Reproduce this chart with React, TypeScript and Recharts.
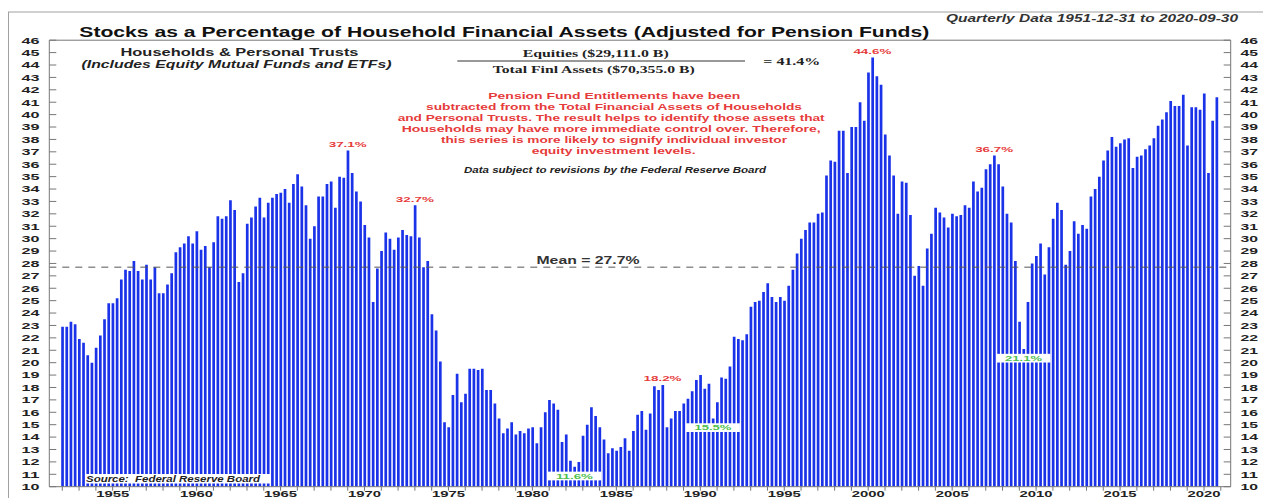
import React from 'react';
import { BarChart, Bar, XAxis, YAxis, ReferenceLine, ReferenceDot } from 'recharts';

// Quarterly data, first bar is 1951-12-31 (plotted at 1952.0)
const firstQuarter = 1952;

const pct1950s = [
  22.9, 22.9, 23.3, 23.1, 21.9, 21.6, 20.6, 20.0, 21.2, 22.2, 23.5, 24.8, 24.8, 25.2, 26.7, 27.5, 27.4,
  28.2, 27.4, 26.7, 27.9, 26.7, 27.7, 25.6, 25.6, 26.3, 27.2, 28.9, 29.3, 29.6, 30.2, 29.6, 30.6,
];
const pct1960s = [
  29.1, 29.4, 27.7, 29.7, 31.8, 31.6, 31.8, 33.1, 32.3, 26.5, 27.2, 31.2, 31.7, 32.6, 33.3, 31.7, 32.9,
  33.3, 33.6, 33.7, 34.0, 32.9, 34.4, 35.2, 34.2, 32.7, 30.0, 31.0, 33.4, 33.4, 34.4, 34.6, 32.5, 35.0,
  34.9, 37.1, 35.3, 33.8, 33.0, 31.1,
];
const pct1970s = [
  30.1, 24.9, 27.6, 29.0, 30.5, 30.0, 29.1, 30.1, 30.7, 30.3, 30.2, 32.7, 30.1, 27.7, 28.2, 23.9, 22.6,
  20.1, 15.2, 14.8, 17.4, 19.1, 16.8, 17.5, 19.5, 19.5, 19.4, 19.5, 17.8, 17.8, 16.7, 15.5, 14.3, 14.7,
  15.2, 14.2, 14.5, 14.3, 14.7, 14.8,
];
const pct1980s = [
  13.5, 14.8, 16.0, 17.0, 16.7, 16.2, 13.6, 14.2, 12.1, 11.6, 12.0, 14.1, 15.0, 16.4, 15.7, 14.8, 13.8,
  12.7, 13.1, 12.9, 13.2, 13.9, 12.9, 14.5, 15.8, 16.1, 14.6, 15.9, 18.1, 17.8, 18.2, 14.8, 15.5, 16.1,
  16.1, 16.7, 17.1, 17.7, 18.6, 19.0,
];
const pct1990s = [
  17.9, 18.3, 15.5, 16.8, 18.8, 18.7, 19.7, 22.1, 21.9, 21.8, 22.3, 24.5, 24.9, 25.0, 25.7, 26.4, 25.3,
  24.9, 25.3, 25.0, 26.2, 27.5, 28.8, 30.0, 30.7, 31.3, 31.3, 32.0, 32.1, 35.1, 36.3, 36.2, 38.7, 38.7,
  35.3, 39.0, 39.0, 41.0, 39.5, 43.4,
];
const pct2000s = [
  44.6, 43.1, 42.4, 38.4, 36.7, 35.1, 32.0, 34.6, 34.5, 31.9, 27.0, 27.8, 26.2, 29.2, 30.4, 32.5, 32.1,
  31.7, 30.9, 32.0, 31.8, 31.9, 32.7, 32.5, 34.6, 33.8, 34.1, 35.6, 36.0, 36.7, 36.0, 34.2, 32.0, 31.3,
  28.2, 23.3, 21.1, 24.9, 28.0, 28.6,
];
const pct2010s = [
  29.6, 27.1, 29.3, 31.6, 32.9, 32.3, 27.9, 29.0, 31.4, 30.4, 31.1, 30.8, 33.4, 34.0, 35.0, 36.3, 37.1,
  38.2, 37.4, 37.7, 38.0, 38.1, 35.7, 36.6, 36.7, 37.2, 37.5, 38.1, 39.1, 39.6, 40.2, 41.1, 40.7, 40.7,
  41.6, 37.5, 40.6, 40.6, 40.4, 41.7,
];
const pct2020 = [35.3, 39.5, 41.4];

const pct = [...pct1950s, ...pct1960s, ...pct1970s, ...pct1980s, ...pct1990s, ...pct2000s, ...pct2010s, ...pct2020];
const data = pct.map((v, i) => ({ t: firstQuarter + i / 4, v }));

const meanPct = 27.7;
const yTicks = [
  10, 11, 12, 13, 14, 15, 16, 17, 18, 19, 20, 21, 22, 23, 24, 25, 26, 27, 28, 29, 30, 31, 32, 33, 34, 35,
  36, 37, 38, 39, 40, 41, 42, 43, 44, 45, 46,
];
const yearLabels = [1955, 1960, 1965, 1970, 1975, 1980, 1985, 1990, 1995, 2000, 2005, 2010, 2015, 2020];
const yearTicks = Array.from({ length: 70 }, (_, k) => 1952 + k);

// bar index of highlighted peaks / troughs
const peaks = [68, 84, 143, 193, 222];
const troughs = [122, 155, 229];

const SANS = "'Liberation Sans', Arial, sans-serif";
const SERIF = "'Liberation Serif', 'Times New Roman', serif";
const RED = '#e63b3b';
const GREEN = '#4fbf4f';
const BLUE = '#1b33e8';
const AXIS = '#777';
const PLOT_L = 49.3;
const PLOT_R = 1230.7;

function ST({ x, y, w, size, text, fill = '#222', weight = 700, italic = false, family = SANS }: any) {
  return (
    <text
      x={x}
      y={y}
      textLength={w}
      lengthAdjust="spacingAndGlyphs"
      fontSize={size}
      fontWeight={weight}
      fontStyle={italic ? 'italic' : 'normal'}
      fontFamily={family}
      fill={fill}
      style={{ whiteSpace: 'pre' }}
    >
      {text}
    </text>
  );
}

const LeftTick = (p: any) => (
  <g>
    <line x1={PLOT_L} x2={PLOT_L + 7} y1={p.y} y2={p.y} stroke={AXIS} />
    <ST x={21.5} y={p.y + 3.4} w={18} size={9.5} text={String(p.payload.value)} />
  </g>
);

const RightTick = (p: any) => (
  <g>
    <line x1={PLOT_R - 7} x2={PLOT_R} y1={p.y} y2={p.y} stroke={AXIS} />
    <ST x={1240.5} y={p.y + 3.4} w={17.5} size={9.5} text={String(p.payload.value)} />
  </g>
);

const YearTick = (p: any) =>
  yearLabels.includes(p.payload.value) ? (
    <ST x={p.x - 16.5} y={p.y + 4.6} w={33} size={9.5} text={String(p.payload.value)} />
  ) : (
    <g />
  );

const peakShape = (label: string) => (p: any) => (
  <ST x={p.cx - 19} y={p.cy - 3.5} w={38} size={8} fill={RED} text={label} />
);

const troughShape = (label: string) => (p: any) => (
  <g>
    <rect x={p.cx - 27} y={p.cy + 4.8} width={54} height={8.7} fill="#fff" />
    <ST x={p.cx - 18.5} y={p.cy + 11.8} w={37} size={8} fill={GREEN} text={label} />
  </g>
);

const meanShape = (p: any) => <ST x={p.cx - 51.5} y={p.cy - 3} w={103} size={10.7} fill="#333" text={`Mean = ${meanPct}%`} />;

const redLines = [
  { text: 'Pension Fund Entitlements have been', x: 488.3, w: 252 },
  { text: 'subtracted from the Total Financial Assets of Households', x: 426, w: 376 },
  { text: 'and Personal Trusts. The result helps to identify those assets that', x: 397.7, w: 427 },
  { text: 'Households may have more immediate control over. Therefore,', x: 401.7, w: 419 },
  { text: 'this series is more likely to signify individual investor', x: 441, w: 346 },
  { text: 'equity investment levels.', x: 531.7, w: 164 },
];

export default function App() {
  return (
    <div
      style={{
        position: 'fixed',
        left: 0,
        top: 0,
        width: 1263,
        height: 498,
        overflow: 'hidden',
        background: '#fff',
      }}
    >
      <BarChart
        width={1263}
        height={520}
        data={data}
        margin={{ top: 40.2, right: 0, bottom: 3.3, left: 0 }}
        style={{ fontFamily: SANS }}
      >
        <XAxis
          dataKey="t"
          type="number"
          scale="linear"
          domain={[1951.226, 2021.589]}
          allowDataOverflow
          ticks={yearTicks}
          interval={0}
          tickSize={4}
          tickMargin={2}
          height={30}
          stroke={AXIS}
          tick={YearTick}
        />
        <YAxis
          yAxisId="left"
          orientation="left"
          width={PLOT_L}
          domain={[10, 46]}
          allowDataOverflow
          ticks={yTicks}
          interval={0}
          tickLine={false}
          stroke={AXIS}
          tick={LeftTick}
        />
        <YAxis
          yAxisId="right"
          orientation="right"
          width={1263 - PLOT_R}
          domain={[10, 46]}
          allowDataOverflow
          ticks={yTicks}
          interval={0}
          tickLine={false}
          stroke={AXIS}
          tick={RightTick}
        />
        <Bar dataKey="v" yAxisId="left" fill={BLUE} barSize={2.7} isAnimationActive={false} />
        <ReferenceLine yAxisId="left" y={46} stroke={AXIS} />
        <ReferenceLine yAxisId="left" y={meanPct} stroke="#555" strokeDasharray="7 6" />
        <ReferenceDot yAxisId="left" x={1983.31} y={meanPct} r={0} shape={meanShape} />
        {peaks.map((i) => (
          <ReferenceDot
            key={`p${i}`}
            yAxisId="left"
            x={data[i].t}
            y={data[i].v}
            r={0}
            shape={peakShape(`${data[i].v.toFixed(1)}%`)}
          />
        ))}
        {troughs.map((i) => (
          <ReferenceDot
            key={`t${i}`}
            yAxisId="left"
            x={data[i].t}
            y={data[i].v}
            r={0}
            shape={troughShape(`${data[i].v.toFixed(1)}%`)}
          />
        ))}
      </BarChart>

      <svg width={1263} height={498} style={{ position: 'absolute', left: 0, top: 0, pointerEvents: 'none' }}>
        <line x1={8} x2={1263} y1={12} y2={12} stroke="#a0a0a0" />
        <line x1={8.5} x2={8.5} y1={12} y2={498} stroke="#a0a0a0" />

        <ST x={79.3} y={36.5} w={850} size={15} fill="#111" text="Stocks as a Percentage of Household Financial Assets (Adjusted for Pension Funds)" />
        <ST x={946} y={22} w={292} size={11} italic fill="#333" text="Quarterly Data 1951-12-31 to 2020-09-30" />

        <ST x={120.5} y={56} w={238} size={10.7} text="Households & Personal Trusts" />
        <ST x={81.5} y={68.3} w={310} size={10.7} italic text="(Includes Equity Mutual Funds and ETFs)" />

        <ST x={522.7} y={56.7} w={146} size={9.5} family={SERIF} text="Equities ($29,111.0 B)" />
        <line x1={457.3} x2={745} y1={61} y2={61} stroke="#333" />
        <ST x={492.7} y={73.3} w={202} size={9.5} family={SERIF} text="Total Finl Assets ($70,355.0 B)" />
        <ST x={763.3} y={65} w={57} size={9.5} family={SERIF} text="= 41.4%" />

        {redLines.map((l, k) => (
          <ST key={k} x={l.x} y={98.5 + k * 11} w={l.w} size={8.8} fill={RED} text={l.text} />
        ))}

        <ST x={464} y={173.3} w={302} size={8.5} italic fill="#222" text="Data subject to revisions by the Federal Reserve Board" />

        <rect x={85} y={474} width={186} height={9.5} fill="#fff" />
        <ST x={86} y={481.8} w={174} size={8.5} italic fill="#222" text={'Source:  Federal Reserve Board'} />
      </svg>
    </div>
  );
}
